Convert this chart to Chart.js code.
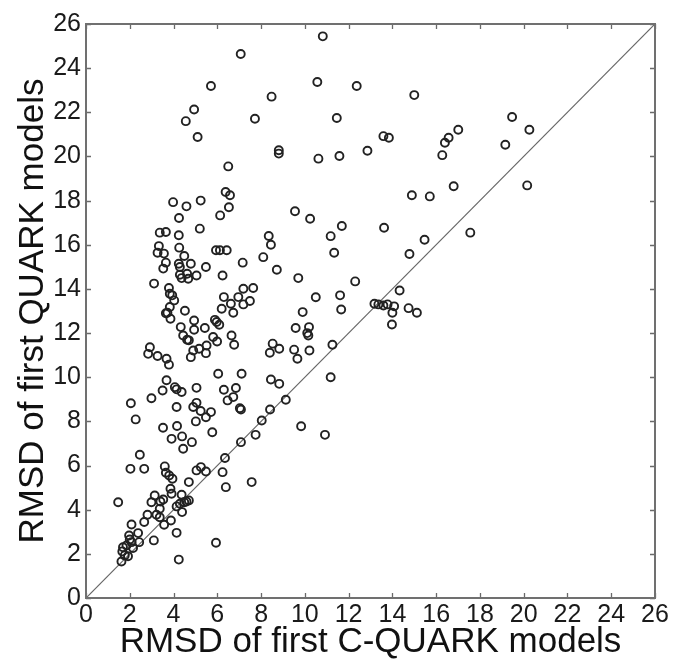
<!DOCTYPE html>
<html>
<head>
<meta charset="utf-8">
<script src="https://cdn.jsdelivr.net/npm/chart.js@4/dist/chart.umd.min.js"></script>
<style>
  html, body { margin: 0; padding: 0; background: #ffffff; }
  #wrap { width: 675px; height: 666px; }
</style>
</head>
<body>
<div id="wrap"><canvas id="c" width="675" height="666"></canvas></div>
<script>
// x: RMSD of first C-QUARK models, y: RMSD of first QUARK models
const cquark = [
  7.07,5.71,8.48,4.94,4.56,7.72,5.10,8.81,8.81,6.50,6.38,6.58,3.98,4.59,5.24,6.53,4.25,6.13,
  10.82,10.57,12.37,15.00,11.46,13.59,13.84,17.01,16.57,16.40,16.28,10.62,11.58,12.86,16.80,14.89,15.71,9.55,10.24,
  19.47,20.26,19.16,20.16,17.56,
  5.20,3.37,3.65,4.24,3.33,3.27,3.56,4.26,4.49,3.65,3.53,4.24,4.29,4.79,4.29,4.62,4.37,4.67,5.05,5.48,
  5.94,6.12,6.43,6.24,7.16,8.35,8.45,8.10,8.72,3.11,3.79,3.83,3.94,4.03,3.83,3.65,3.72,3.86,4.52,
  6.30,6.62,6.96,7.19,7.64,7.49,7.19,6.20,6.73,4.94,4.33,4.94,5.43,5.89,5.97,6.09,4.44,4.62,4.70,
  5.81,5.99,6.65,6.77,2.92,2.84,3.27,3.68,3.79,4.90,4.79,5.17,5.51,5.48,6.04,7.11,8.53,8.40,8.83,
  3.68,3.50,4.06,4.14,4.37,5.05,6.30,6.85,6.73,6.47,2.99,2.05,8.45,8.83,
  11.69,11.18,13.62,15.47,14.78,11.34,9.70,12.30,10.50,11.61,11.66,14.33,9.90,13.18,13.36,13.59,13.78,14.08,
  14.00,14.74,15.12,13.98,9.58,10.19,10.11,10.16,9.51,9.66,10.21,11.26,11.18,9.13,
  4.14,5.05,4.90,5.24,5.48,5.71,5.02,7.03,7.08,2.27,3.52,4.16,3.91,4.39,4.44,4.84,5.77,2.46,2.03,2.66,
  3.60,3.65,3.80,3.95,4.70,5.05,5.25,5.48,6.35,6.24,6.39,7.57,7.08,7.75,8.03,8.41,3.86,1.47,3.14,2.99,
  3.40,3.53,3.37,3.91,4.37,4.49,4.59,4.70,4.29,4.14,4.39,3.88,3.22,3.37,3.57,2.81,2.66,2.08,2.38,1.97,
  2.00,2.08,2.15,1.85,1.69,1.66,1.92,1.62,1.77,2.43,3.10,4.14,4.24,5.94,9.83,10.92
];
const quark = [
  24.64,23.19,22.71,22.13,21.60,21.71,20.88,20.28,20.13,19.55,18.39,18.24,17.93,17.74,18.00,17.70,17.21,17.33,
  25.44,23.37,23.19,22.78,21.74,20.92,20.85,21.21,20.85,20.62,20.06,19.90,20.02,20.26,18.65,18.24,18.19,17.52,17.18,
  21.79,21.21,20.53,18.69,16.55,
  16.73,16.55,16.58,16.43,15.94,15.64,15.60,15.87,15.49,15.19,14.92,15.14,14.99,15.14,14.64,14.69,14.49,14.46,14.61,14.99,
  15.75,15.75,15.75,14.61,15.19,16.40,16.00,15.44,14.87,14.24,14.04,13.78,13.71,13.48,13.18,12.90,12.92,12.65,13.01,
  13.63,13.33,13.63,14.01,14.04,13.45,13.30,13.10,12.92,12.57,12.27,12.15,12.23,12.60,12.50,12.38,11.89,11.70,11.67,
  11.82,11.62,11.89,11.47,11.36,11.06,10.96,10.84,10.57,11.21,10.91,11.29,11.44,11.09,10.16,10.16,11.52,11.11,11.29,
  9.86,9.40,9.55,9.45,9.33,9.52,9.43,9.51,9.10,8.95,9.05,8.82,9.90,9.70,
  16.85,16.39,16.77,16.23,15.58,15.64,14.49,14.34,13.62,13.71,13.07,13.93,12.95,13.33,13.30,13.25,13.30,13.21,
  12.92,13.13,12.92,12.39,12.23,12.27,12.00,11.89,11.25,10.84,11.21,11.47,10.00,8.98,
  8.65,8.84,8.65,8.47,8.19,8.42,8.00,8.60,8.54,8.09,7.71,7.79,7.21,7.32,6.76,7.06,7.51,6.49,5.85,5.85,
  5.96,5.67,5.55,5.40,5.25,5.78,5.93,5.73,6.34,5.70,5.02,5.25,7.06,7.39,8.04,8.54,4.95,4.34,4.64,4.34,
  4.37,4.46,4.04,4.72,4.68,4.34,4.37,4.42,4.27,4.15,3.89,3.51,3.77,3.66,3.32,3.77,3.44,3.33,2.94,2.83,
  2.65,2.53,2.26,2.38,2.30,2.11,1.89,1.65,1.93,2.53,2.61,2.95,1.74,2.50,7.78,7.39
];
const axisMin = 0;
const axisMax = 26;
const tickStep = 2;
const tickValues = [0,2,4,6,8,10,12,14,16,18,20,22,24,26];
const xTitle = 'RMSD of first C-QUARK models';
const yTitle = 'RMSD of first QUARK models';

const points = cquark.map((v, i) => ({ x: v, y: quark[i] }));
const diagonal = [{ x: axisMin, y: axisMin }, { x: axisMax, y: axisMax }];

const FONT = '"Liberation Sans", Arial, sans-serif';

const frameTicks = {
  id: 'frameTicks',
  afterDatasetsDraw(chart) {
    const { ctx, chartArea: a, scales } = chart;
    const xs = scales.x, ys = scales.y;
    ctx.save();
    ctx.strokeStyle = '#6a6a6a';
    ctx.lineWidth = 1.3;
    const L = 5;
    ctx.beginPath();
    tickValues.forEach(v => {
      const px = Math.round(xs.getPixelForValue(v)) + 0.5;
      ctx.moveTo(px, a.bottom); ctx.lineTo(px, a.bottom - L);
      ctx.moveTo(px, a.top); ctx.lineTo(px, a.top + L);
      const py = Math.round(ys.getPixelForValue(v)) + 0.5;
      ctx.moveTo(a.left, py); ctx.lineTo(a.left + L, py);
      ctx.moveTo(a.right, py); ctx.lineTo(a.right - L, py);
    });
    ctx.stroke();
    ctx.lineWidth = 2;
    ctx.strokeStyle = '#707070';
    ctx.strokeRect(a.left, a.top, a.right - a.left, a.bottom - a.top);
    ctx.restore();
  }
};

new Chart(document.getElementById('c'), {
  type: 'scatter',
  data: {
    datasets: [
      {
        type: 'line',
        data: diagonal,
        borderColor: '#666666',
        borderWidth: 1.2,
        pointRadius: 0,
        fill: false,
        order: 2
      },
      {
        data: points,
        pointStyle: 'circle',
        pointRadius: 4,
        pointBorderWidth: 1.9,
        pointBorderColor: '#222222',
        pointBackgroundColor: 'rgba(0,0,0,0)',
        order: 1
      }
    ]
  },
  options: {
    responsive: false,
    animation: false,
    events: [],
    layout: { padding: { top: 24, right: 20, left: 0, bottom: 0 } },
    plugins: { legend: { display: false }, tooltip: { enabled: false } },
    scales: {
      x: {
        type: 'linear',
        min: axisMin, max: axisMax,
        border: { display: false },
        grid: { display: false, drawTicks: false },
        ticks: { stepSize: tickStep, padding: 2, color: '#1a1a1a', font: { family: FONT, size: 25 }, maxRotation: 0, autoSkip: false },
        title: { display: true, text: xTitle, color: '#111111', font: { family: FONT, size: 35, lineHeight: 1 }, padding: { top: 0, bottom: 6 } },
        afterFit(s) { s.height = 68; }
      },
      y: {
        type: 'linear',
        min: axisMin, max: axisMax,
        border: { display: false },
        grid: { display: false, drawTicks: false },
        ticks: { stepSize: tickStep, padding: 5, color: '#1a1a1a', font: { family: FONT, size: 25 }, autoSkip: false },
        title: { display: true, text: yTitle, color: '#111111', font: { family: FONT, size: 35, lineHeight: 1 }, padding: { top: 16, bottom: 0 } },
        afterFit(s) { s.width = 86; }
      }
    }
  },
  plugins: [frameTicks]
});
</script>
</body>
</html>
